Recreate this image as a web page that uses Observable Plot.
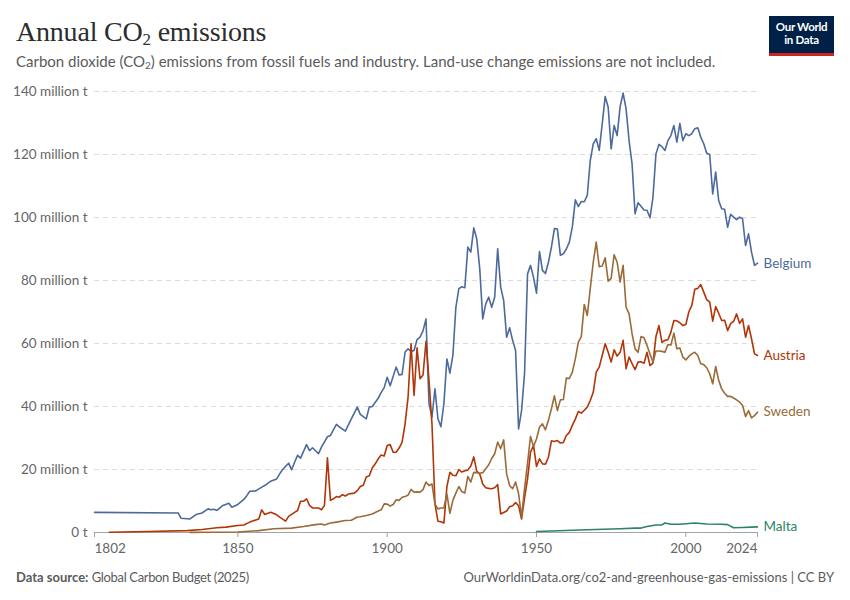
<!DOCTYPE html>
<html>
<head>
<meta charset="utf-8">
<script src="https://cdn.jsdelivr.net/npm/d3@7"></script>
<script src="https://cdn.jsdelivr.net/npm/@observablehq/plot@0.6"></script>
<style>
  html, body { margin: 0; padding: 0; background: #fff; }
  #page { position: relative; width: 850px; height: 600px; overflow: hidden; font-family: Lato, "Noto Sans", sans-serif; }
  #title { position: absolute; left: 16px; top: 15px; font-family: "Liberation Serif", "DejaVu Serif", serif; font-size: 28px; color: #2d2d2d; line-height: 34px; letter-spacing: -0.2px; }
  #title sub { font-size: 17px; vertical-align: -4px; line-height: 0; }
  #subtitle { position: absolute; left: 16px; top: 51px; font-size: 15px; color: #5b5b5b; line-height: 20px; }
  #subtitle sub { font-size: 10px; vertical-align: -2px; line-height: 0; }
  #logo { position: absolute; left: 769px; top: 16px; width: 65px; height: 33px; background: #002147; border-bottom: 3px solid #ce261e; color: #fff; font-size: 11.5px; font-weight: 700; line-height: 13px; text-align: center; padding-top: 4px; box-sizing: content-box; letter-spacing: -0.3px; }
  #chart { position: absolute; left: 0; top: 75px; }
  #footer-left { position: absolute; left: 16px; top: 568px; font-size: 13px; color: #5b5b5b; line-height: 18px; }
  #footer-left b { font-weight: 700; }
  #footer-left span { letter-spacing: -0.35px; }
  #footer-right { position: absolute; right: 16px; top: 568px; font-size: 13px; color: #5b5b5b; line-height: 18px; }
</style>
</head>
<body>
<div id="page">
  <div id="title">Annual CO<sub>2</sub> emissions</div>
  <div id="subtitle">Carbon dioxide (CO<sub>2</sub>) emissions from fossil fuels and industry. Land-use change emissions are not included.</div>
  <div id="logo">Our World<br>in Data</div>
  <div id="chart"></div>
  <div id="footer-left"><b>Data source:</b> <span>Global Carbon Budget (2025)</span></div>
  <div id="footer-right">OurWorldinData.org/co2-and-greenhouse-gas-emissions | CC BY</div>
</div>
<script>
// Annual CO2 emissions, million tonnes: [year, value]
const belgium = [
  [1802,6.4],[1830,6.2],[1831,4.5],[1834,4.3],[1836,5.7],[1838,6.2],[1840,7.5],[1841,7.2],[1842,7.4],[1843,7.0],
  [1845,8.6],[1847,9.3],[1848,8.0],[1850,8.9],[1852,10.5],[1853,11.7],[1854,13.1],[1856,13.2],[1858,14.4],[1859,14.9],
  [1861,16.3],[1863,17.0],[1864,18.6],[1865,20.0],[1867,22.0],[1868,19.9],[1869,22.3],[1870,24.5],[1871,23.6],[1873,27.9],
  [1874,26.0],[1875,26.9],[1877,25.0],[1878,27.1],[1880,30.4],[1881,30.8],[1883,34.3],[1884,33.5],[1886,32.2],[1888,36.1],
  [1890,39.8],[1891,37.5],[1893,36.1],[1894,39.8],[1895,40.0],[1897,42.6],[1898,44.5],[1899,46.0],[1900,49.3],[1901,46.6],
  [1903,52.5],[1904,50.0],[1905,50.2],[1906,57.3],[1907,58.3],[1908,57.5],[1909,57.8],[1910,61.2],[1911,62.0],[1912,64.0],
  [1913,67.8],[1914,41.0],[1915,36.6],[1916,45.6],[1917,36.1],[1918,33.6],[1919,41.0],[1920,55.1],[1921,50.6],[1922,56.2],
  [1923,71.5],[1924,77.4],[1925,78.0],[1926,77.7],[1927,90.6],[1928,89.0],[1929,96.7],[1930,93.2],[1931,83.7],[1932,67.8],
  [1933,72.6],[1934,74.7],[1935,71.5],[1936,74.7],[1937,90.1],[1938,77.9],[1939,73.7],[1940,62.0],[1941,65.0],[1942,61.0],
  [1943,57.8],[1944,32.9],[1945,38.7],[1946,50.5],[1947,82.1],[1948,84.8],[1949,81.0],[1950,76.0],[1951,89.2],[1952,83.2],
  [1953,82.2],[1954,85.8],[1955,90.6],[1956,96.5],[1957,96.3],[1958,88.0],[1959,88.5],[1960,90.0],[1961,92.2],[1962,97.0],
  [1963,105.6],[1964,103.5],[1965,105.1],[1966,105.0],[1967,107.0],[1968,118.1],[1969,123.4],[1970,125.0],[1971,121.3],[1972,129.7],
  [1973,138.4],[1974,135.0],[1975,121.8],[1976,129.2],[1977,126.0],[1978,135.2],[1979,139.5],[1980,134.5],[1981,124.4],[1982,117.0],
  [1983,101.2],[1984,104.7],[1985,103.6],[1986,102.4],[1987,102.3],[1988,99.9],[1989,106.5],[1990,120.2],[1991,123.2],[1992,122.5],
  [1993,121.3],[1994,124.4],[1995,126.0],[1996,129.2],[1997,123.9],[1998,129.9],[1999,124.4],[2000,126.6],[2001,126.0],[2002,126.6],
  [2003,128.2],[2004,128.5],[2005,125.5],[2006,123.4],[2007,120.4],[2008,120.0],[2009,107.5],[2010,114.4],[2011,105.4],[2012,102.8],
  [2013,102.6],[2014,96.9],[2015,101.0],[2016,100.1],[2017,99.3],[2018,100.1],[2019,99.6],[2020,91.1],[2021,94.8],[2022,89.0],
  [2023,84.8],[2024,85.5]
];
const austria = [
  [1807,0.1],[1820,0.3],[1833,0.6],[1838,0.95],[1843,1.5],[1846,1.7],[1850,2.2],[1852,2.4],[1854,3.3],[1857,4.3],
  [1858,7.2],[1859,5.7],[1861,6.4],[1863,5.6],[1864,4.9],[1866,3.6],[1867,5.1],[1869,6.4],[1870,7.0],[1871,9.9],
  [1872,9.9],[1873,10.7],[1874,8.6],[1875,7.8],[1877,7.8],[1878,7.2],[1879,8.6],[1880,23.7],[1881,10.2],[1882,10.7],
  [1883,11.4],[1884,11.2],[1885,12.0],[1886,11.6],[1887,12.2],[1889,12.5],[1890,13.3],[1891,14.6],[1892,15.0],[1893,17.6],
  [1894,18.0],[1895,20.5],[1896,21.8],[1897,23.4],[1898,24.6],[1899,24.3],[1900,27.6],[1901,27.9],[1902,25.5],[1903,25.5],
  [1904,26.8],[1905,28.7],[1906,34.5],[1907,43.0],[1908,59.9],[1909,43.5],[1910,58.6],[1911,48.8],[1912,50.0],[1913,60.7],
  [1914,48.3],[1915,34.5],[1916,9.1],[1917,3.6],[1918,3.4],[1919,3.0],[1920,14.6],[1921,19.1],[1922,18.2],[1923,18.0],
  [1924,20.0],[1925,19.2],[1926,19.6],[1927,19.8],[1928,21.1],[1929,24.0],[1930,19.4],[1931,18.6],[1932,15.4],[1933,14.2],
  [1934,14.0],[1935,13.9],[1936,14.2],[1937,15.2],[1938,5.9],[1940,6.8],[1941,8.2],[1942,8.5],[1943,9.5],[1944,8.5],
  [1945,4.3],[1946,11.0],[1947,17.0],[1948,25.5],[1949,27.6],[1950,21.0],[1951,23.4],[1952,21.8],[1953,21.7],[1954,23.9],
  [1955,29.1],[1956,28.9],[1957,29.2],[1958,28.4],[1959,28.6],[1960,30.8],[1961,31.8],[1962,34.0],[1963,36.0],[1964,38.4],
  [1965,37.9],[1966,38.8],[1967,39.8],[1968,41.9],[1969,44.5],[1970,50.9],[1971,52.5],[1972,56.2],[1973,59.9],[1974,57.2],
  [1975,54.1],[1976,58.0],[1977,56.0],[1978,57.2],[1979,61.0],[1980,52.0],[1981,55.7],[1982,53.6],[1983,51.7],[1984,54.1],
  [1985,54.2],[1986,53.7],[1987,57.2],[1988,53.0],[1989,53.8],[1990,62.2],[1991,65.7],[1992,60.4],[1993,61.0],[1994,61.2],
  [1995,63.6],[1996,67.3],[1997,67.2],[1998,66.6],[1999,65.7],[2000,66.0],[2001,70.0],[2002,72.1],[2003,77.2],[2004,77.5],
  [2005,78.7],[2006,76.3],[2007,73.9],[2008,73.1],[2009,67.1],[2010,71.7],[2011,69.6],[2012,67.3],[2013,67.4],[2014,64.1],
  [2015,66.3],[2016,67.0],[2017,69.4],[2018,66.4],[2019,67.8],[2020,62.0],[2021,65.7],[2022,61.5],[2023,56.7],[2024,56.2]
];
const sweden = [
  [1834,0.05],[1850,0.15],[1857,0.6],[1862,1.2],[1868,1.4],[1872,1.9],[1876,2.5],[1878,2.7],[1879,2.4],[1881,3.0],
  [1883,3.3],[1886,3.8],[1888,3.9],[1890,4.9],[1891,5.0],[1893,5.4],[1895,5.9],[1897,6.8],[1898,7.2],[1899,9.1],
  [1900,9.0],[1901,8.4],[1902,8.9],[1903,10.4],[1904,10.2],[1905,11.2],[1906,11.4],[1907,11.9],[1908,13.7],[1909,12.8],
  [1910,12.9],[1911,12.8],[1912,13.6],[1913,16.0],[1914,14.9],[1915,15.4],[1916,9.0],[1917,7.5],[1918,7.8],[1919,7.8],
  [1920,12.3],[1921,6.1],[1922,10.2],[1923,12.5],[1924,14.6],[1925,13.0],[1926,12.5],[1927,17.8],[1928,16.0],[1929,19.1],
  [1930,19.0],[1931,18.8],[1932,19.0],[1933,20.2],[1934,21.5],[1935,23.5],[1936,25.0],[1937,28.7],[1938,26.6],[1939,29.4],
  [1940,18.6],[1941,14.9],[1942,13.9],[1943,16.0],[1944,12.3],[1945,4.9],[1946,14.0],[1947,22.0],[1948,30.5],[1949,27.3],
  [1950,29.7],[1951,33.4],[1952,34.5],[1953,32.6],[1954,35.6],[1955,39.3],[1956,43.4],[1957,38.7],[1958,42.1],[1959,42.2],
  [1960,49.0],[1961,48.9],[1962,50.9],[1963,55.1],[1964,60.4],[1965,62.2],[1966,72.4],[1967,68.9],[1968,77.4],[1969,85.8],
  [1970,92.2],[1971,84.4],[1972,84.6],[1973,87.2],[1974,79.8],[1975,80.7],[1976,88.2],[1977,85.8],[1978,79.5],[1979,84.8],
  [1980,71.5],[1981,69.4],[1982,63.1],[1983,58.3],[1984,57.2],[1985,62.2],[1986,61.8],[1987,59.4],[1988,56.7],[1989,54.1],
  [1990,57.6],[1991,57.6],[1992,57.5],[1993,57.2],[1994,59.7],[1995,59.5],[1996,63.3],[1997,58.3],[1998,58.6],[1999,55.7],
  [2000,54.8],[2001,55.9],[2002,56.7],[2003,57.2],[2004,56.2],[2005,53.6],[2006,53.3],[2007,52.3],[2008,50.4],[2009,47.2],
  [2010,52.7],[2011,48.3],[2012,45.6],[2013,44.2],[2014,43.2],[2015,43.2],[2016,42.7],[2017,42.1],[2018,41.4],[2019,40.3],
  [2020,36.8],[2021,38.7],[2022,36.4],[2023,37.1],[2024,38.2]
];
const malta = [
  [1950,0.3],[1967,0.85],[1978,1.2],[1983,1.4],[1985,1.4],[1987,1.9],[1990,2.4],[1992,2.4],[1993,3.0],[1995,2.6],
  [1998,2.6],[2003,3.0],[2007,2.7],[2012,2.6],[2014,2.5],[2016,1.5],[2019,1.6],[2022,1.7],[2024,1.8]
];

const countries = ["Belgium", "Austria", "Sweden", "Malta"];
const seriesList = [belgium, austria, sweden, malta];
const colors = ["#4c6a9c", "#b13507", "#9a6b38", "#2c8465"];
const xTicks = [1802, 1850, 1900, 1950, 2000, 2024];
const yTicks = [0, 20, 40, 60, 80, 100, 120, 140];

const data = seriesList.flatMap((s, i) => s.map(([year, value]) => ({country: countries[i], year, value})));
const lastPoints = seriesList.map((s, i) => ({country: countries[i], year: s[s.length - 1][0], value: s[s.length - 1][1]}));

const xFirst = xTicks[0];
const xLast = xTicks[xTicks.length - 1];
const xMiddle = xTicks.slice(1, -1);
const xAxisOpts = {tickSize: 5, tickPadding: 6, label: null, stroke: "#a3a3a3", fill: "#666", fontSize: 13.5, tickFormat: d => String(d)};

const chart = Plot.plot({
  width: 850,
  height: 490,
  marginTop: 16,
  marginBottom: 33,
  marginLeft: 94,
  marginRight: 93,
  x: {domain: [1802, 2024]},
  y: {domain: [0, 140]},
  color: {domain: countries, range: colors},
  style: {fontFamily: "Lato, 'Noto Sans', sans-serif", fontSize: "13.5px", color: "#666", background: "transparent", overflow: "visible"},
  marks: [
    Plot.gridY(yTicks.filter(d => d > 0), {stroke: "#dcdcdc", strokeOpacity: 1, strokeDasharray: "5,4"}),
    Plot.axisY(yTicks, {tickSize: 0, tickPadding: 7, label: null, fill: "#666", fontSize: 13.5,
      tickFormat: d => d === 0 ? "0 t" : `${d} million t`}),
    Plot.ruleY([0], {stroke: "#a3a3a3", strokeWidth: 1}),
    Plot.axisX(xMiddle, xAxisOpts),
    Plot.axisX([xFirst], {...xAxisOpts, textAnchor: "start"}),
    Plot.axisX([xLast], {...xAxisOpts, textAnchor: "end"}),
    Plot.line(data, {x: "year", y: "value", z: "country", stroke: "country", strokeWidth: 1.6, curve: "linear"}),
    Plot.text(lastPoints, {x: "year", y: "value", text: "country", fill: "country", dx: 6, textAnchor: "start", fontSize: 13.5})
  ]
});
document.getElementById("chart").appendChild(chart);
</script>
</body>
</html>
